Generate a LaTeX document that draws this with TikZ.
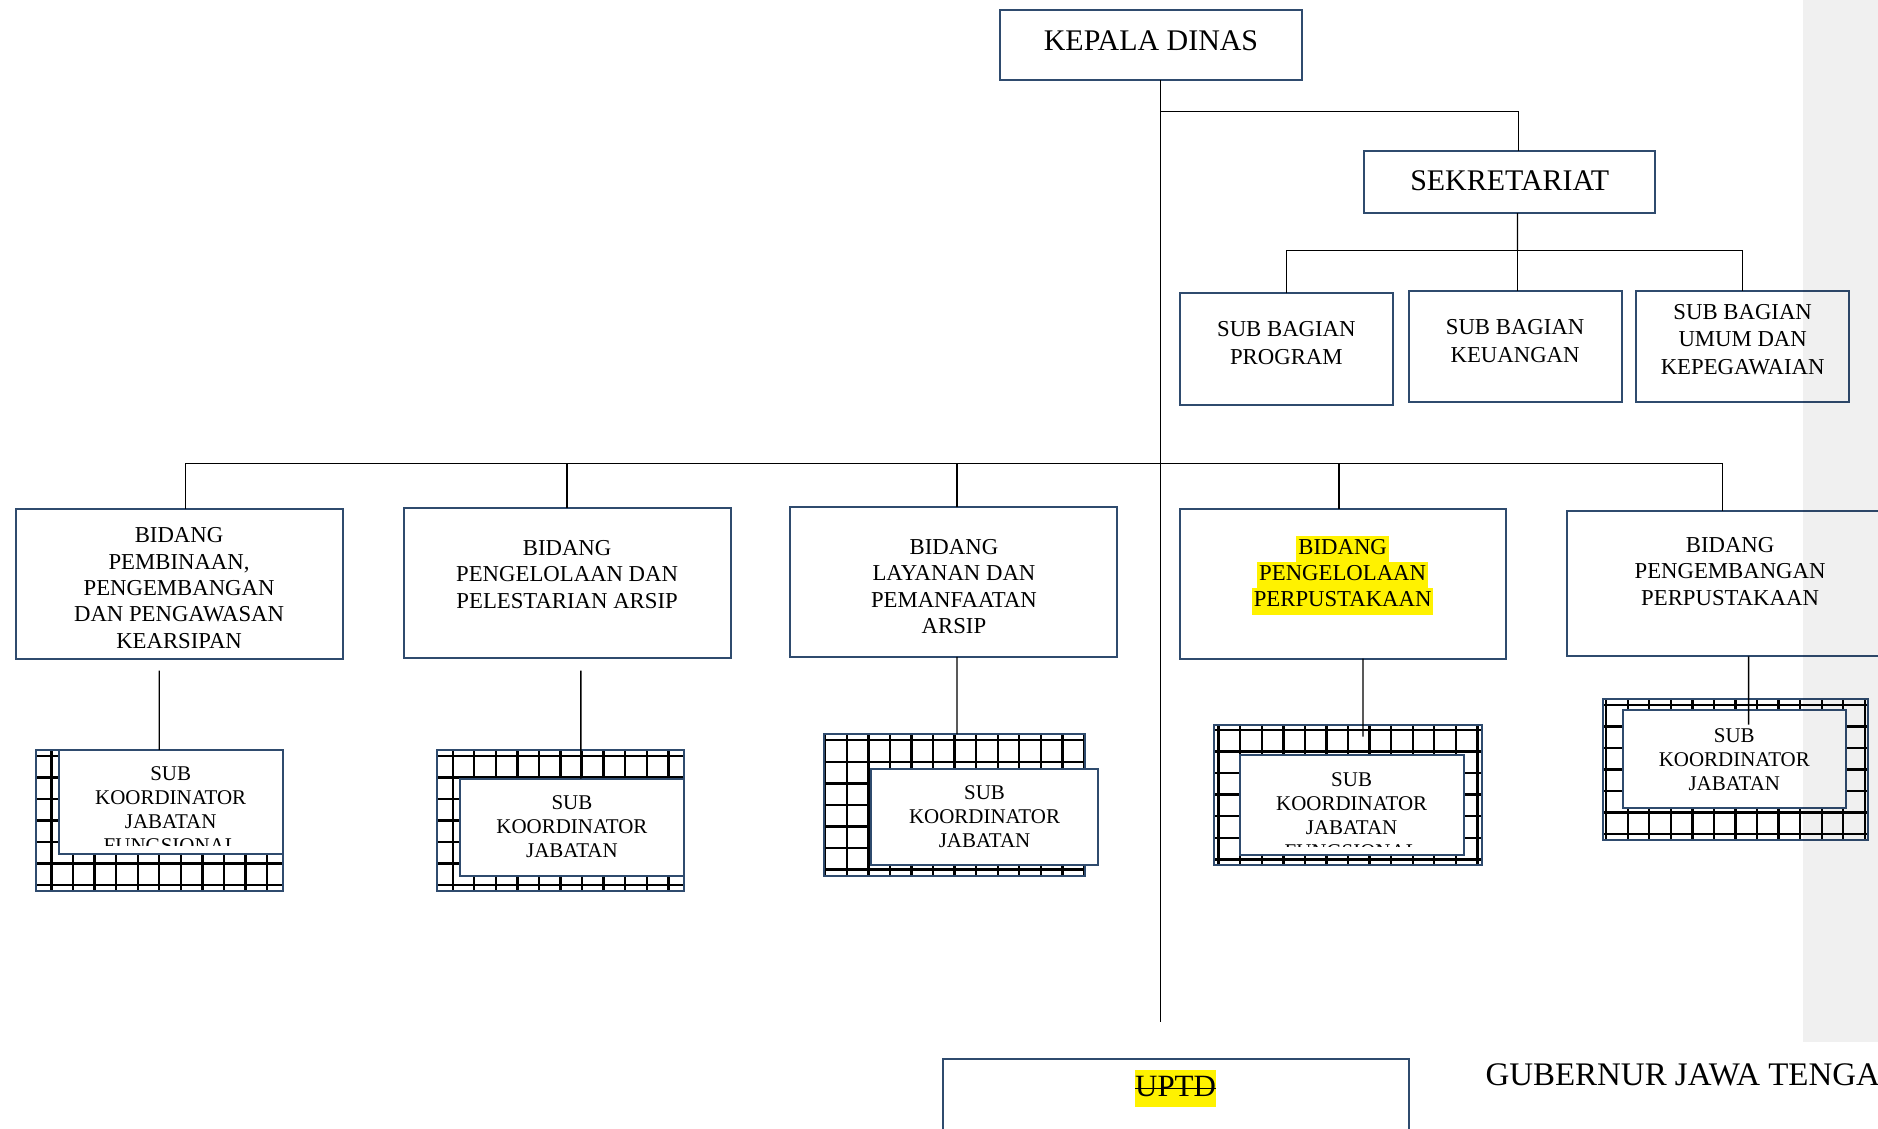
\documentclass[tikz,border=0pt]{standalone}
\usepackage{fontspec}
\setmainfont{Liberation Serif}
\usetikzlibrary{positioning}
\definecolor{navy}{HTML}{2F4B6E}
\newcommand{\hlt}[1]{{\fboxsep=0pt\colorbox{yellow}{\strut\hspace{1pt}#1\hspace{1pt}}}}
\newcommand{\strk}[1]{{\setbox0\hbox{#1}\rlap{\rule[0.22em]{\wd0}{0.9pt}}\box0}}

\begin{document}
\begin{tikzpicture}[x=0.6pt,y=-0.6pt,
						box/.style={draw=navy,line width=1pt,inner sep=0pt,outer sep=0pt},
						headbox/.style={box,minimum width=151.2pt,minimum height=35.4pt},
						secbox/.style={box,minimum width=145.8pt,minimum height=31.2pt},
						subbox/.style={box,minimum width=106.8pt,minimum height=55.8pt},
						fieldbox/.style={box,minimum width=163.8pt,minimum height=75pt},
						hatchbox/.style={box,path picture={\draw[black,line width=1.2pt,step=10.8pt] (path picture bounding box.south west) grid (path picture bounding box.north east);}},
						koordbox/.style={box,fill=white,align=center,font=\fontsize{10.5}{12}\selectfont},
						bigtxt/.style={font=\fontsize{15}{18}\selectfont},
						subtxt/.style={align=center,font=\fontsize{11.4}{13.8}\selectfont},
						midtxt/.style={align=center,font=\fontsize{11.4}{13.2}\selectfont},
						smalltxt/.style={align=center,font=\fontsize{10.5}{12}\selectfont},
						link/.style={black,line width=0.7pt}]
		\useasboundingbox (0,0) rectangle (1568,942);

		\node[headbox,label={[bigtxt,yshift=2.1pt]center:KEPALA DINAS}]	(kepala)	at (961,37.5)	{};
		\node[secbox,label={[bigtxt,yshift=0.6pt]center:SEKRETARIAT}]	(sek)	at (1260.5,152)	{};

		\node[subbox,label={[subtxt,yshift=3pt]center:{SUB BAGIAN\\PROGRAM}}]	(prog)	at (1074,291.5)	{};
		\node[subbox,node distance=7.8pt,right=of prog,yshift=1.2pt,label={[subtxt,yshift=2.7pt]center:{SUB BAGIAN\\KEUANGAN}}]	(keu)	{};
		\node[subbox,node distance=7.2pt,right=of keu,label={[subtxt,yshift=3.6pt]center:{SUB BAGIAN\\UMUM DAN\\KEPEGAWAIAN}}]	(umum)	{};

		\node[fieldbox,label={[midtxt,yshift=-2.1pt]center:{BIDANG\\PEMBINAAN,\\PENGEMBANGAN\\DAN PENGAWASAN\\KEARSIPAN}}]	(b1)	at (149.5,487.5)	{};
		\node[fieldbox,node distance=30.6pt,right=of b1,yshift=0.6pt,label={[midtxt,yshift=4.2pt]center:{BIDANG\\PENGELOLAAN DAN\\PELESTARIAN ARSIP}}]	(b2)	{};
		\node[fieldbox,node distance=30pt,right=of b2,yshift=0.3pt,label={[midtxt,yshift=-2.2pt]center:{BIDANG\\LAYANAN DAN\\PEMANFAATAN\\ARSIP}}]	(b3)	{};
		\node[fieldbox,minimum width=163.2pt,node distance=31.2pt,right=of b3,yshift=-0.9pt,label={[midtxt,yshift=4.4pt]center:{\hlt{BIDANG}\\\hlt{PENGELOLAAN}\\\hlt{PERPUSTAKAAN}}}]	(b4)	{};
		\node[fieldbox,minimum height=72.6pt,node distance=30.6pt,right=of b4,label={[midtxt,yshift=6.3pt]center:{BIDANG\\PENGEMBANGAN\\PERPUSTAKAAN}}]	(b5)	{};

		\node[hatchbox,minimum width=123.6pt,minimum height=70.8pt]	(h1)	at (133,685)	{};
		\node[koordbox,minimum width=112.2pt,minimum height=52.2pt]	(k1)	at (142.5,669.5)	{};
		\begin{scope}
			\clip ([shift={(0.5pt,4.2pt)}]k1.south west) rectangle ([shift={(-0.5pt,-0.5pt)}]k1.north east);
			\node[smalltxt,yshift=-3.9pt]	(k1t)	at (k1.center)	{SUB\\KOORDINATOR\\JABATAN\\FUNGSIONAL};
		\end{scope}

		\node[hatchbox,minimum width=123.6pt,minimum height=70.8pt]	(h2)	at (468,685)	{};
		\node[koordbox,minimum width=112.2pt,minimum height=48.6pt]	(k2)	at (477.5,690.5)	{SUB\\KOORDINATOR\\JABATAN};

		\node[hatchbox,minimum width=130.8pt,minimum height=70.8pt]	(h3)	at (797,672)	{};
		\node[koordbox,minimum width=114pt,minimum height=48pt]	(k3)	at (822,682)	{SUB\\KOORDINATOR\\JABATAN};

		\node[hatchbox,minimum width=133.8pt,minimum height=70.2pt]	(h4)	at (1125.5,663.5)	{};
		\node[koordbox,minimum width=112.2pt,minimum height=50.4pt]	(k4)	at (1128.5,672)	{};
		\begin{scope}
			\clip ([shift={(0.5pt,4.2pt)}]k4.south west) rectangle ([shift={(-0.5pt,-0.5pt)}]k4.north east);
			\node[smalltxt,yshift=-5.4pt]	(k4t)	at (k4.center)	{SUB\\KOORDINATOR\\JABATAN\\FUNGSIONAL};
		\end{scope}

		\node[hatchbox,minimum width=133.2pt,minimum height=70.2pt]	(h5)	at (1449,642.5)	{};
		\node[koordbox,minimum width=111.6pt,minimum height=49.2pt]	(k5)	at (1448,634)	{SUB\\KOORDINATOR\\JABATAN};

		\node[box,minimum width=233.4pt,minimum height=72pt,label={[font=\fontsize{15.5}{18.6}\selectfont,yshift=21pt]center:{{\fboxsep=0pt\colorbox{yellow}{\strut\strk{UPTD}}}}}]	(uptd)	at (981.5,944)	{};
		\node[anchor=west,inner sep=0pt,font=\fontsize{16.5}{19.5}\selectfont]	(gub)	at (1240,897)	{GUBERNUR JAWA TENGA};

		\coordinate (trunk)		at (969,853);
		\coordinate (ksplit)	at (969,93);
		\coordinate (ssplit)	at (1267,209);
		\coordinate (bsplit)	at (969,387);

		\draw[link] (kepala.south -| trunk) -- (trunk);
		\draw[link] (ksplit) -| ([xshift=4.5pt]sek.north);
		\draw[link] ([xshift=3.9pt]sek.south) -- (ssplit);
		\draw[link] (prog.north) |- (ssplit);
		\draw[link] (ssplit) -| (umum.north);
		\draw[link] (ssplit) -- (ssplit |- keu.north);
		\draw[link] ([xshift=3.3pt]b1.north) |- (bsplit);
		\draw[link] (bsplit) -| ([xshift=-3.9pt]b5.north);
		\draw[link] (b2.north) -- (b2.north |- bsplit);
		\draw[link] ([xshift=1.5pt]b3.north) -- ([xshift=1.5pt]b3.north |- bsplit);
		\draw[link] ([xshift=-1.8pt]b4.north) -- ([xshift=-1.8pt]b4.north |- bsplit);
		\draw[link] ([xshift=-9.9pt,yshift=-6pt]b1.south) -- ([xshift=-5.7pt]k1.north);
		\draw[link] ([xshift=6.9pt,yshift=-6.6pt]b2.south) -- ([xshift=4.5pt]k2.north);
		\draw[link] ([xshift=1.5pt]b3.south) -- ([xshift=1.2pt]h3.north);
		\draw[link] ([xshift=10.2pt]b4.south) -- ([xshift=7.5pt,yshift=-6pt]h4.north);
		\draw[link] ([xshift=9.3pt]b5.south) -- ([xshift=7.2pt,yshift=-7.2pt]k5.north);

		\fill[black,fill opacity=0.059] (1505,0) rectangle (1568,870);
	\end{tikzpicture}
\end{document}
